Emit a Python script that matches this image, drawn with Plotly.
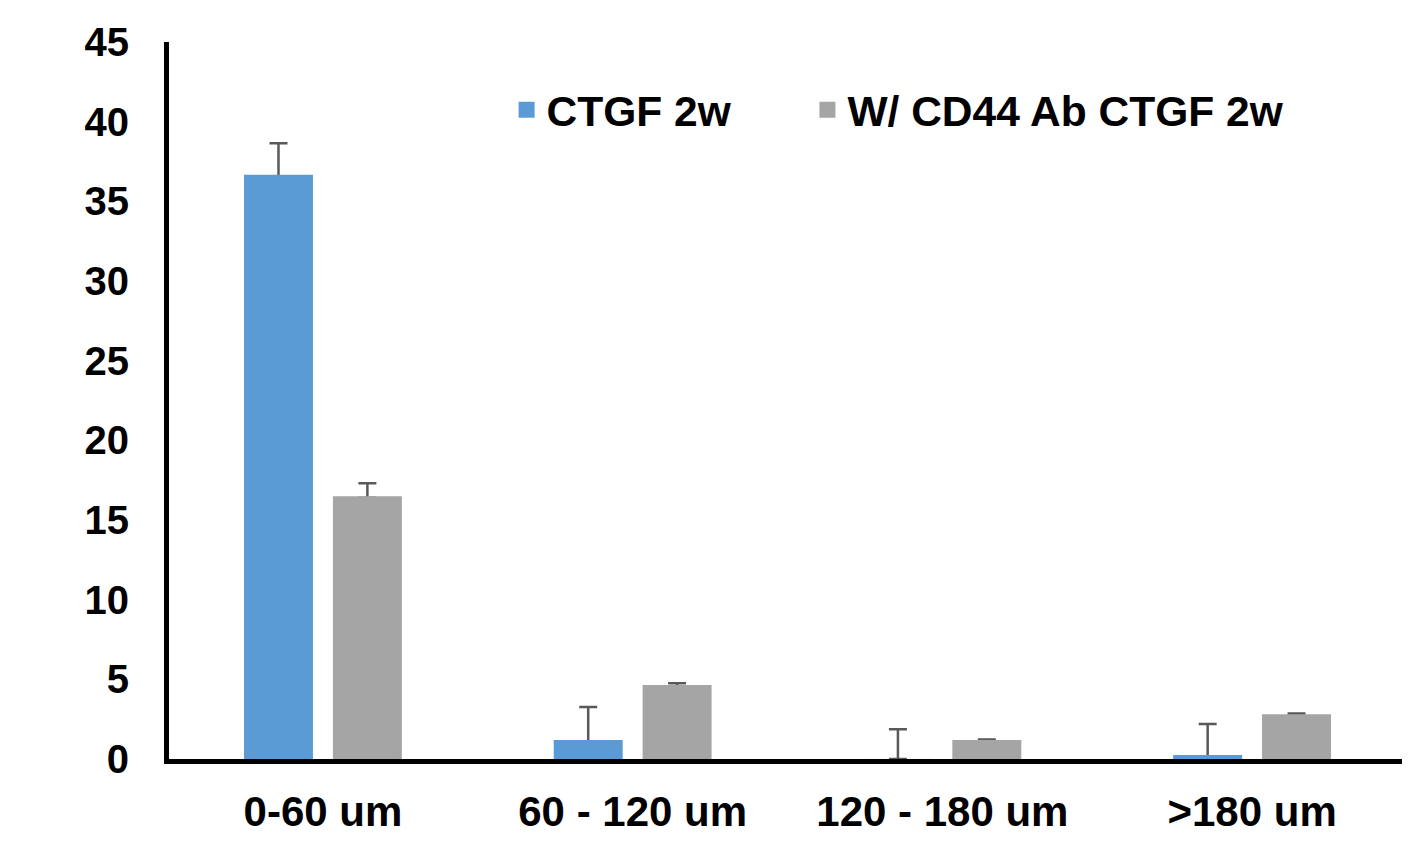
import plotly.graph_objects as go

categories = ["0-60 um", "60 - 120 um", "120 - 180 um", ">180 um"]
ctgf_vals = [36.57, 1.1, 0.0, 0.15]
ctgf_err = [2.08, 2.16, 1.86, 2.05]
cd44_vals = [16.4, 4.55, 1.1, 2.71]
cd44_err = [0.9, 0.2, 0.13, 0.15]
y_ticks = [0, 5, 10, 15, 20, 25, 30, 35, 40, 45]

FONT = "Liberation Sans, Arial, sans-serif"
BLUE = "#5B9BD5"
GRAY = "#A5A5A5"
ERR = "#595959"

series = [
    ("CTGF 2w", ctgf_vals, ctgf_err, BLUE, "a", "legend"),
    ("W/ CD44 Ab CTGF 2w", cd44_vals, cd44_err, GRAY, "b", "legend2"),
]

fig = go.Figure()
# error bars first (transparent bars), so the visible bars drawn later hide the lower cap
for name, vals, err, col, og, lg in series:
    fig.add_trace(go.Bar(
        x=categories, y=vals, offsetgroup=og, showlegend=False,
        marker=dict(color="rgba(0,0,0,0)"), hoverinfo="skip",
        error_y=dict(type="data", array=err, arrayminus=[0] * len(err), symmetric=False,
                     color=ERR, thickness=2.5, width=9),
    ))
for name, vals, err, col, og, lg in series:
    fig.add_trace(go.Bar(
        name=name, x=categories, y=vals, offsetgroup=og, showlegend=False,
        marker=dict(color=col, line=dict(color=col, width=[3 if v > 0 else 0 for v in vals])),
    ))
# legend entries
for name, vals, err, col, og, lg in series:
    fig.add_trace(go.Scatter(
        name=name, x=[None], y=[None], mode="markers", legend=lg,
        marker=dict(symbol="square", size=20, color=col),
    ))

legend_font = dict(family=FONT, size=42.5, color="black", weight="bold")
fig.update_layout(
    width=1410, height=833,
    margin=dict(l=161, r=16, t=34, b=82),
    paper_bgcolor="white", plot_bgcolor="white",
    barmode="group", bargap=0.426, bargroupgap=0.258,
    font=dict(family=FONT, size=40, color="black", weight="bold"),
    showlegend=True,
    legend=dict(x=0.2738, xanchor="left", y=0.905, yanchor="middle",
                font=legend_font, bgcolor="rgba(0,0,0,0)"),
    legend2=dict(x=0.5178, xanchor="left", y=0.905, yanchor="middle",
                 font=legend_font, bgcolor="rgba(0,0,0,0)"),
)
fig.update_xaxes(
    range=[-0.497, 3.484], showline=True, linewidth=5, linecolor="black",
    showgrid=False, zeroline=False, ticks="", ticklabelstandoff=12, automargin=False,
    tickfont=dict(family=FONT, size=42, color="black", weight="bold"),
)
fig.update_yaxes(
    range=[0, 45], tickvals=y_ticks, showline=True, linewidth=5, linecolor="black",
    showgrid=False, zeroline=False, ticks="", ticklabelstandoff=27, automargin=False,
    tickfont=dict(family=FONT, size=40, color="black", weight="bold"),
)

fig.write_html("out.html")
